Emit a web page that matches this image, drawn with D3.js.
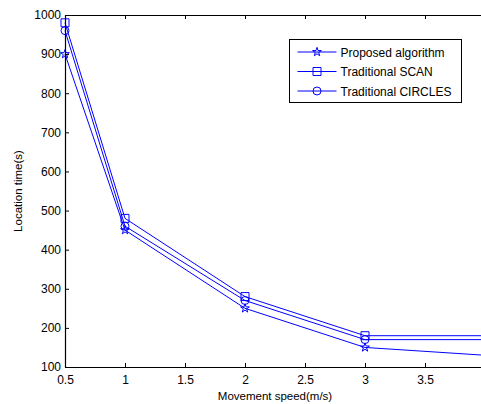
<!DOCTYPE html>
<html>
<head>
<meta charset="utf-8">
<script src="https://cdn.jsdelivr.net/npm/d3@7"></script>
<style>
  body { margin: 0; background: #fff; }
  svg { font-family: "Liberation Sans", Arial, sans-serif; }
  .line { fill: none; stroke: #0000ff; stroke-width: 1; }
  .mark { fill: none; stroke: #0000ff; stroke-width: 1; }
</style>
</head>
<body>
<svg id="chart" width="481" height="404"></svg>
<script>
"use strict";

var speeds = [0.5, 1, 2, 3, 4];
var proposed = [900, 450, 250, 150, 130];
var scan = [980, 480, 280, 180, 180];
var circles = [960, 460, 270, 170, 170];
var seriesNames = ['Proposed algorithm', 'Traditional SCAN', 'Traditional CIRCLES'];
var xTicks = [0.5, 1, 1.5, 2, 2.5, 3, 3.5];
var yTicks = [100, 200, 300, 400, 500, 600, 700, 800, 900, 1000];

var series = [
  { name: seriesNames[0], values: proposed, symbol: d3.symbolStar, size: 24 },
  { name: seriesNames[1], values: scan, symbol: d3.symbolSquare, size: 64 },
  { name: seriesNames[2], values: circles, symbol: d3.symbolCircle, size: 50 }
];

function make_plot(svg) {
  var margin = { top: 15, right: -4, bottom: 37, left: 65 };
  var width = 481 - margin.left - margin.right;
  var height = 404 - margin.top - margin.bottom;

  var plot = svg.append('g')
    .attr('transform', 'translate(' + margin.left + ',' + margin.top + ')');

  var _x = d3.scaleLinear().domain([0.5, 4]).range([0, width]);
  var _y = d3.scaleLinear().domain([100, 1000]).range([height, 0]);

  var valueline = d3.line()
    .x(function (d, i) { return _x(speeds[i]); })
    .y(function (d) { return _y(d); });

  series.forEach(function (s) {
    plot.append('path')
      .datum(s.values)
      .attr('class', 'line')
      .attr('d', valueline);
    // the point at 4 sits beyond the visible frame, so no marker there
    plot.selectAll(null)
      .data(s.values.slice(0, 4))
      .enter().append('path')
      .attr('class', 'mark')
      .attr('transform', function (d, i) {
        return 'translate(' + _x(speeds[i]) + ',' + _y(d) + ')';
      })
      .attr('d', d3.symbol().type(s.symbol).size(s.size));
  });

  // axes, MATLAB style ticks pointing inward
  var xaxis = d3.axisBottom(_x).tickValues(xTicks).tickSizeInner(-4).tickSizeOuter(0)
    .tickPadding(8).tickFormat(d3.format('~g'));
  var yaxis = d3.axisLeft(_y).tickValues(yTicks).tickSizeInner(-4).tickSizeOuter(0)
    .tickPadding(4).tickFormat(d3.format('d'));

  plot.append('g')
    .attr('transform', 'translate(0,' + height + ')')
    .call(xaxis);
  plot.append('g').call(yaxis);

  plot.append('g')
    .call(d3.axisTop(_x).tickValues(xTicks).tickSizeInner(-4).tickSizeOuter(0).tickFormat(''));
  plot.append('g')
    .attr('transform', 'translate(' + width + ',0)')
    .call(d3.axisRight(_y).tickValues(yTicks).tickSizeInner(-4).tickSizeOuter(0).tickFormat(''));

  plot.selectAll('.domain').attr('stroke', '#000').attr('stroke-width', 1.2);
  plot.selectAll('.tick line').attr('stroke', '#000');
  plot.selectAll('.tick text').attr('font-size', 12).attr('fill', '#000')
    .attr('font-family', '"Liberation Sans", Arial, sans-serif');

  svg.append('text')
    .attr('x', 275).attr('y', 400)
    .attr('text-anchor', 'middle')
    .attr('font-size', 11.5)
    .text('Movement speed(m/s)');

  svg.append('text')
    .attr('transform', 'translate(22,' + (margin.top + height / 2) + ') rotate(-90)')
    .attr('text-anchor', 'middle')
    .attr('font-size', 11.5)
    .text('Location time(s)');

  // legend
  var legend = svg.append('g').attr('transform', 'translate(289.5,39.5)');
  legend.append('rect')
    .attr('width', 172).attr('height', 63)
    .attr('fill', '#fff').attr('stroke', '#000').attr('stroke-width', 1);
  series.forEach(function (s, i) {
    var yy = 12.5 + i * 19.5;
    legend.append('line')
      .attr('x1', 8).attr('x2', 47).attr('y1', yy).attr('y2', yy)
      .attr('stroke', '#0000ff');
    legend.append('path')
      .attr('class', 'mark')
      .attr('transform', 'translate(27.5,' + yy + ')')
      .attr('d', d3.symbol().type(s.symbol).size(s.size));
    legend.append('text')
      .attr('x', 51).attr('y', yy + 4.5)
      .attr('font-size', 12)
      .text(s.name);
  });
}

make_plot(d3.select('#chart'));
</script>
</body>
</html>
